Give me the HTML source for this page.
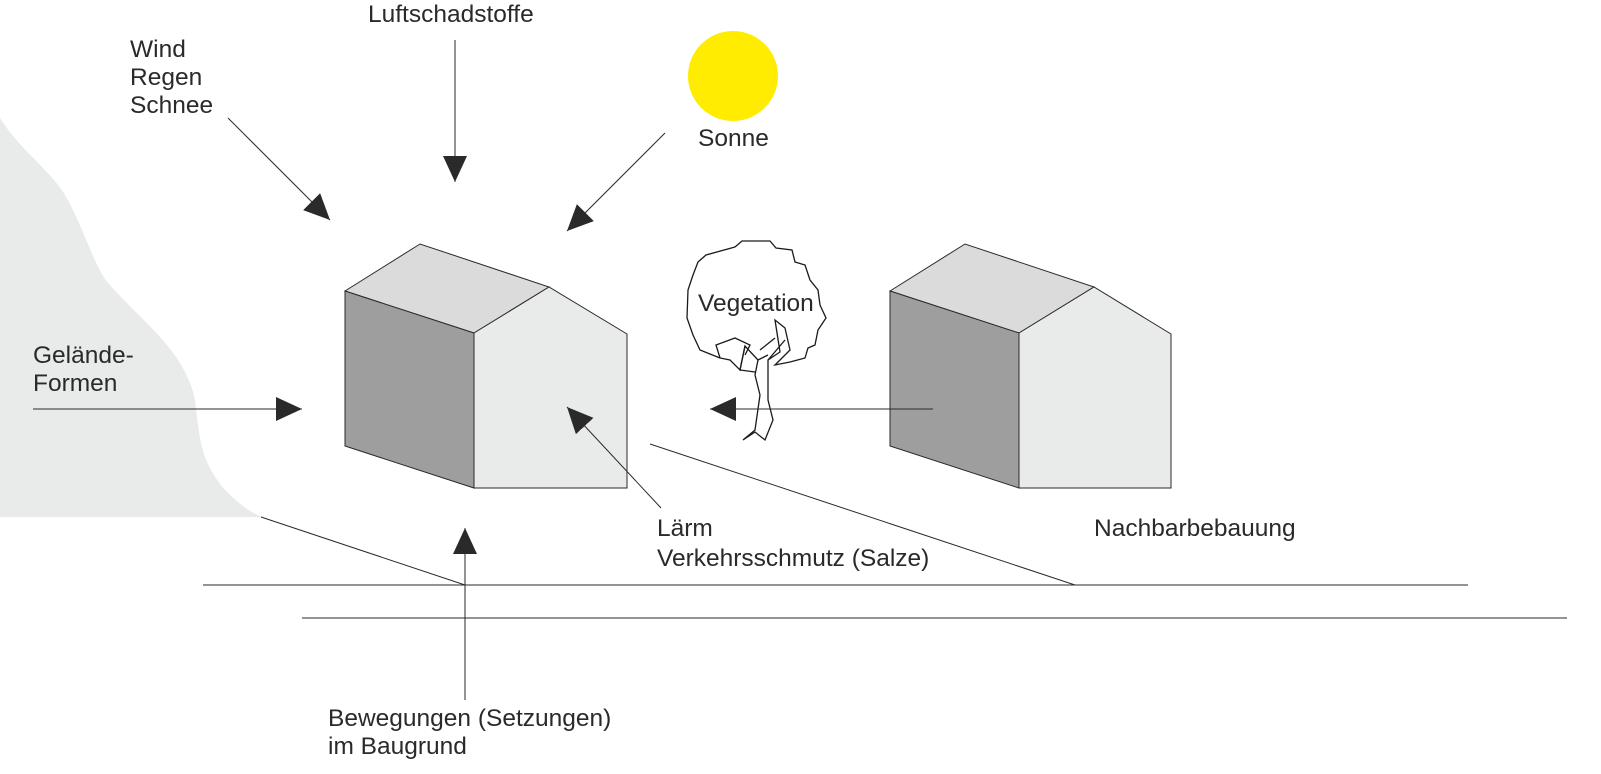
<!DOCTYPE html>
<html><head><meta charset="utf-8"><style>
html,body{margin:0;padding:0;background:#fff;}
svg{display:block;}
text{font-family:"Liberation Sans",sans-serif;font-size:24.5px;fill:#2a2a2a;}
</style></head><body>
<svg width="1601" height="774" viewBox="0 0 1601 774" xmlns="http://www.w3.org/2000/svg">
<defs>
<marker id="a" markerUnits="userSpaceOnUse" markerWidth="28" markerHeight="26" refX="26" refY="12" orient="auto">
<path d="M0,0 L26,12 L0,24 z" fill="#2a2a2a"/>
</marker>
</defs>
<path d="M0,118 C20,150 50,170 65,195 C85,230 95,270 110,285 C140,320 185,350 195,400 C200,440 200,460 225,490 C240,505 250,512 262,517 L0,517 z" fill="#e9eaea"/>
<circle cx="733" cy="76" r="45" fill="#ffec00"/>
<polygon points="345,291 420,244 549,287 474,333" fill="#dadbda" stroke="#2a2a2a" stroke-width="1"/>
<polygon points="345,291 474,333 474,488 345,446" fill="#9d9e9d" stroke="#2a2a2a" stroke-width="1"/>
<polygon points="474,333 549,287 627,334 627,488 474,488" fill="#e9eaea" stroke="#2a2a2a" stroke-width="1"/>
<polygon points="890,291 965,244 1094,287 1019,333" fill="#dadbda" stroke="#2a2a2a" stroke-width="1"/>
<polygon points="890,291 1019,333 1019,488 890,446" fill="#9d9e9d" stroke="#2a2a2a" stroke-width="1"/>
<polygon points="1019,333 1094,287 1171,334 1171,488 1019,488" fill="#e9eaea" stroke="#2a2a2a" stroke-width="1"/>
<g stroke="#2a2a2a" stroke-width="1" fill="none">
<line x1="261" y1="517" x2="465" y2="585"/>
<line x1="650" y1="444" x2="1075" y2="585"/>
<line x1="203" y1="585" x2="1468" y2="585"/>
<line x1="302" y1="618" x2="1567" y2="618"/>
</g>
<g stroke="#1a1a1a" stroke-width="1.3" fill="none">
<path d="M735,247 L742,241 L770,241 L776,248 L792,250 L795,262 L805,265 L810,280 L818,290 L820,305 L826,318 L818,330 L815,345 L808,348 L805,358 L790,362 L775,365 L790,350 L785,328 L775,320 L780,352 L768,360 L768,400 L773,420 L765,440 L755,432 L743,440 L755,430 L760,395 L755,375 L758,360 L745,346 L740,370 L730,360 L720,358 L716,345 L735,338 L750,345 L745,355 M720,358 L700,350 L693,335 L687,318 L688,290 L693,275 L698,262 L706,255 L735,247"/>
<path d="M758,360 L768,355 M745,346 L740,370 L755,372 M768,360 L785,340 M760,350 L775,338"/>
</g>
<g stroke="#2a2a2a" stroke-width="1" fill="none" marker-end="url(#a)">
<line x1="455" y1="40" x2="455" y2="182"/>
<line x1="228" y1="118" x2="330" y2="220"/>
<line x1="665" y1="133" x2="567" y2="231"/>
<line x1="33" y1="409" x2="302" y2="409"/>
<line x1="465" y1="700" x2="465" y2="528"/>
<line x1="661" y1="508" x2="567" y2="407"/>
<line x1="933" y1="409" x2="710" y2="409"/>
</g>
<text x="368" y="22">Luftschadstoffe</text>
<text x="130" y="57">Wind</text>
<text x="130" y="85">Regen</text>
<text x="130" y="113">Schnee</text>
<text x="698" y="146">Sonne</text>
<text x="698" y="311">Vegetation</text>
<text x="33" y="363">Gelände-</text>
<text x="33" y="391">Formen</text>
<text x="657" y="536">Lärm</text>
<text x="657" y="566">Verkehrsschmutz (Salze)</text>
<text x="1094" y="536">Nachbarbebauung</text>
<text x="328" y="726">Bewegungen (Setzungen)</text>
<text x="328" y="754">im Baugrund</text>
</svg>
</body></html>
